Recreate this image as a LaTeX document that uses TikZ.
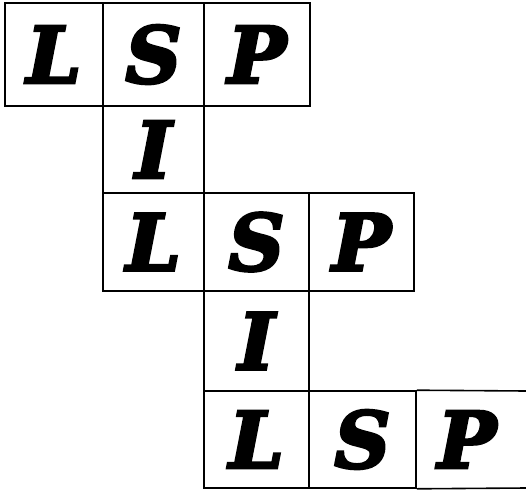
\documentclass[tikz,border=0pt]{standalone}
\usepackage{fontspec}
\newfontfamily\lspfont{DejaVu Serif Bold Italic}[FakeBold=3.5]
\begin{document}
\begin{tikzpicture}[x=1pt,y=-1pt,
  cell/.style={draw, line width=1.6pt, inner sep=0pt, font=\lspfont\fontsize{78}{78}\selectfont},
  letter/.style={inner sep=0pt, font=\lspfont\fontsize{78}{78}\selectfont},
  edge/.style={line width=1.6pt}]
\useasboundingbox (0,0) rectangle (526,489);
% row 1
\node[cell, minimum width=98pt, minimum height=103pt] (l1) at (54,54.5) {L};
\node[cell, minimum width=101pt, minimum height=103pt] (s1) at (153.5,54.5) {S};
\node[cell, minimum width=106pt, minimum height=103pt] (p1) at (257,54.5) {P};
% row 2
\node[cell, minimum width=101pt, minimum height=87pt] (i1) at (153.5,149.5) {I};
% row 3
\node[cell, minimum width=101pt, minimum height=98pt] (l2) at (153.5,242) {L};
\node[cell, minimum width=105pt, minimum height=98pt] (s2) at (256.5,242) {S};
\node[cell, minimum width=105pt, minimum height=98pt] (p2) at (361.5,242) {P};
% row 4
\node[cell, minimum width=105pt, minimum height=100pt] (i2) at (256.5,341) {I};
% row 5
\node[cell, minimum width=105pt, minimum height=97pt] (l3) at (256.5,439.5) {L};
\node[cell, minimum width=107pt, minimum height=97pt] (s3) at (362.5,439.5) {S};
\node[letter] (p3) at (467,439.5) {P};
\coordinate (e1) at (526,391);
\coordinate (e2) at (526,488);
\draw[edge] (s3.north east) -- (e1);
\draw[edge] (s3.south east) -- (e2);
\end{tikzpicture}
\end{document}
